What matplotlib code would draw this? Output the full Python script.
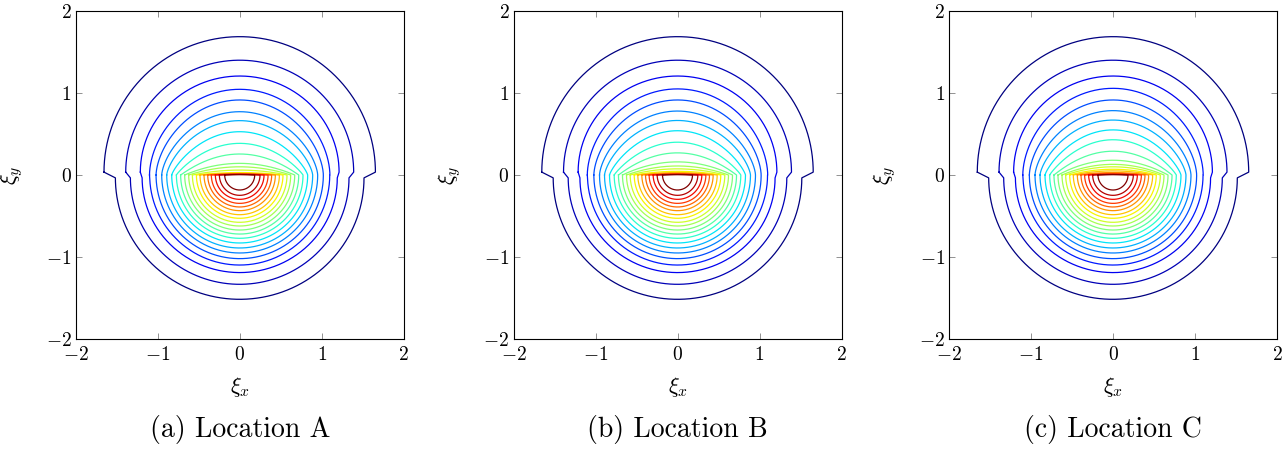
import numpy as np
import matplotlib.pyplot as plt

plt.rcParams['mathtext.fontset'] = 'cm'
plt.rcParams['font.family'] = 'serif'
plt.rcParams['font.serif'] = ['cmr10', 'DejaVu Serif']
plt.rcParams['axes.formatter.use_mathtext'] = True

captions = ['(a) Location A', '(b) Location B', '(c) Location C']
ticks = [-2, -1, 0, 1, 2]

# lower half (xi_y < 0): radius of every contour level, outermost first
r_lower = [1.516, 1.333, 1.19, 1.098, 1.02, 0.951, 0.89, 0.829, 0.772, 0.72, 0.671,
           0.622, 0.577, 0.528, 0.484, 0.435, 0.39, 0.346, 0.297, 0.248, 0.183]
# upper half (xi_y > 0): half width at xi_y = 0+
w_upper = [1.655, 1.39, 1.212, 1.10, 1.02, 0.951, 0.89, 0.829, 0.772, 0.72, 0.671,
           0.622, 0.577, 0.528, 0.484, 0.435, 0.39, 0.346, 0.297, 0.248, 0.183]
# upper half: height at xi_x = 0, one list per location
h_upper_a = [1.687, 1.40, 1.207, 1.045, 0.915, 0.772, 0.663, 0.528, 0.386, 0.256, 0.142,
             0.10, 0.06, 0.03, 0.02, 0.015, 0.012, 0.01, 0.008, 0.006, 0.005]
h_upper_b = [1.687, 1.40, 1.207, 1.05, 0.915, 0.78, 0.665, 0.54, 0.40, 0.27, 0.16,
             0.11, 0.075, 0.045, 0.03, 0.02, 0.014, 0.01, 0.008, 0.006, 0.005]
h_upper_c = [1.687, 1.40, 1.207, 1.057, 0.915, 0.785, 0.67, 0.55, 0.43, 0.29, 0.18,
             0.13, 0.10, 0.07, 0.05, 0.03, 0.02, 0.012, 0.008, 0.006, 0.005]
# exponent of the upper profile (0.5 = ellipse, larger = bell shaped)
p_upper = [0.5, 0.5, 0.5, 0.55, 0.6, 0.65, 0.7, 0.8, 0.9, 1.0, 1.0,
           1.0, 1.0, 1.0, 1.0, 1.0, 1.0, 1.0, 1.0, 1.0, 1.0]

h_all = [h_upper_a, h_upper_b, h_upper_c]

fig = plt.figure(figsize=(12.88, 4.5), dpi=100)
lefts = [75.7 / 1288, 513.5 / 1288, 949 / 1288]
cmap = plt.get_cmap('jet')
n = len(r_lower)
u = np.linspace(0, np.pi, 300)
tick_text = [r'$%d$' % t if t >= 0 else r'$-%d$' % -t for t in ticks]

for k in range(3):
    ax = fig.add_axes([lefts[k], 111 / 450, 328 / 1288, 328 / 450])
    h_upper = h_all[k]
    for i in range(n):
        r, w, h, p = r_lower[i], w_upper[i], h_upper[i], p_upper[i]
        # small rounded step where the upper branch sticks out past the lower one
        d = 0.035 if w > r + 0.01 else 0.0
        xu = -w * np.cos(u)
        yu = h * np.sin(u) ** (2 * p) + d * (1 - np.sin(u))
        xl = r * np.cos(u)
        yl = -r * np.sin(u) - d * (1 - np.sin(u))
        xs = np.concatenate([xu, xl, [-w]])
        ys = np.concatenate([yu, yl, [d]])
        ax.plot(xs, ys, color=cmap(i / (n - 1)), lw=0.9)
    ax.set_xlim(-2, 2)
    ax.set_ylim(-2, 2)
    ax.set_xticks(ticks)
    ax.set_yticks(ticks)
    ax.set_xticklabels(tick_text)
    ax.set_yticklabels(tick_text)
    ax.tick_params(direction='in', top=True, right=True, length=4, width=0.6,
                   color='0.5', labelsize=14)
    ax.tick_params(axis='x', pad=5)
    ax.tick_params(axis='y', pad=3)
    for s in ax.spines.values():
        s.set_linewidth(0.8)
    ax.set_xlabel(r'$\xi_x$', fontsize=16, labelpad=8)
    ax.set_ylabel(r'$\xi_y$', fontsize=16, labelpad=15)
    ax.text(0.5, -0.277, captions[k], transform=ax.transAxes, ha='center', va='center',
            fontsize=20)

fig.savefig('out.png', dpi=100)
